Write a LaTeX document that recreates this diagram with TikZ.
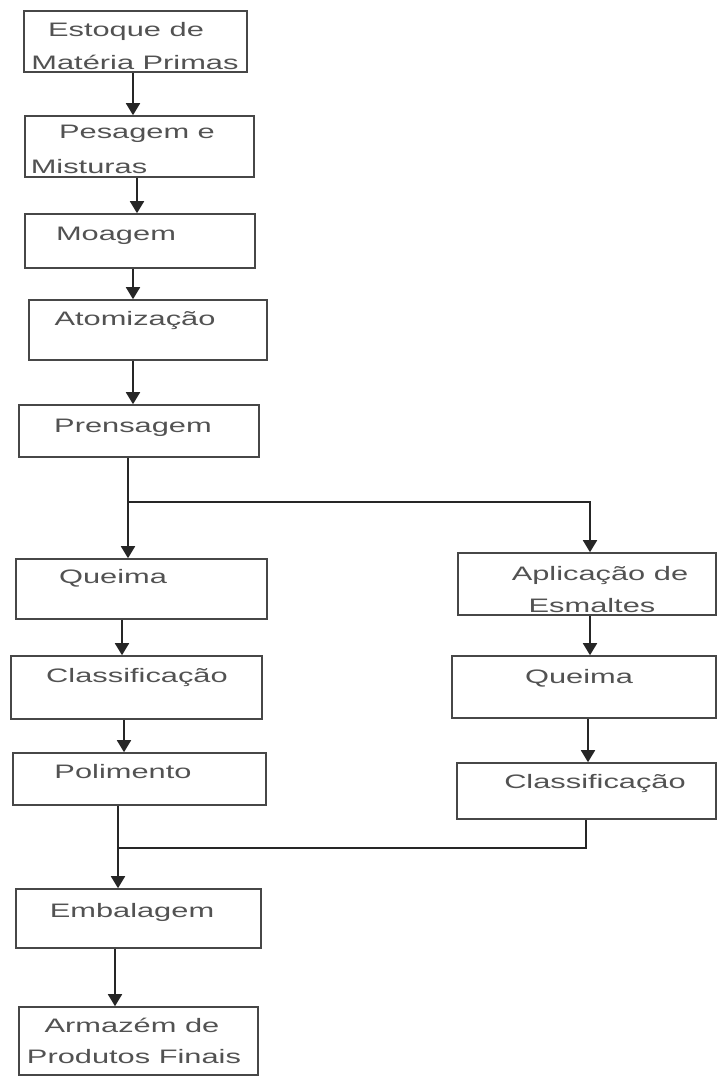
\documentclass[tikz,border=0pt]{standalone}
\usepackage{fontspec}
\usepackage{graphicx}
\setmainfont{Liberation Sans}
\usetikzlibrary{arrows.meta}
\newcommand{\wtxt}[1]{\scalebox{1.58}[1]{#1}}
\begin{document}
\begin{tikzpicture}[x=1pt,y=-1pt,
  box/.style={draw=black!72,line width=1.6pt,rectangle,inner sep=0pt},
  txt/.style={anchor=base,inner sep=0pt,text=black!68,font=\fontsize{19.5}{23}\selectfont},
  conn/.style={draw=black!85,line width=1.8pt},
  arr/.style={conn,-{Triangle[width=14pt,length=12pt]}}]
\useasboundingbox (0,0) rectangle (718,1077);
% boxes
\node[box,minimum width=223pt,minimum height=61pt] (b1) at (135.5,41.5) {};
\node[box,minimum width=229pt,minimum height=61pt] (b2) at (139.5,146.5) {};
\node[box,minimum width=230pt,minimum height=54pt] (b3) at (140,241) {};
\node[box,minimum width=238pt,minimum height=60pt] (b4) at (148,330) {};
\node[box,minimum width=240pt,minimum height=52pt] (b5) at (139,431) {};
\node[box,minimum width=251pt,minimum height=60pt] (b6) at (141.5,589) {};
\node[box,minimum width=251pt,minimum height=63pt] (b7) at (136.5,687.5) {};
\node[box,minimum width=253pt,minimum height=52pt] (b8) at (139.5,779) {};
\node[box,minimum width=258pt,minimum height=62pt] (b9) at (587,584) {};
\node[box,minimum width=264pt,minimum height=62pt] (b10) at (584,687) {};
\node[box,minimum width=259pt,minimum height=56pt] (b11) at (586.5,791) {};
\node[box,minimum width=245pt,minimum height=59pt] (b12) at (138.5,918.5) {};
\node[box,minimum width=239pt,minimum height=68pt] (b13) at (138.5,1041) {};
% texts
\node[txt] (t1a) at (126,36) {\wtxt{Estoque de}};
\node[txt] (t1b) at (135,69) {\wtxt{Matéria Primas}};
\node[txt] (t2a) at (137,138) {\wtxt{Pesagem e}};
\node[txt] (t2b) at (89,173) {\wtxt{Misturas}};
\node[txt] (t3) at (116,240) {\wtxt{Moagem}};
\node[txt] (t4) at (135,325) {\wtxt{Atomização}};
\node[txt] (t5) at (133,432) {\wtxt{Prensagem}};
\node[txt] (t6) at (113,583) {\wtxt{Queima}};
\node[txt] (t7) at (137,682) {\wtxt{Classificação}};
\node[txt] (t8) at (123,778) {\wtxt{Polimento}};
\node[txt] (t9a) at (600,580) {\wtxt{Aplicação de}};
\node[txt] (t9b) at (592,612) {\wtxt{Esmaltes}};
\node[txt] (t10) at (579,683) {\wtxt{Queima}};
\node[txt] (t11) at (595,788) {\wtxt{Classificação}};
\node[txt] (t12) at (132,917) {\wtxt{Embalagem}};
\node[txt] (t13a) at (132,1032) {\wtxt{Armazém de}};
\node[txt] (t13b) at (134,1063) {\wtxt{Produtos Finais}};
% columns
\coordinate (x133) at (133,0);
\coordinate (x137) at (137,0);
\coordinate (x128) at (128,0);
\coordinate (x122) at (122,0);
\coordinate (x124) at (124,0);
\coordinate (x590) at (590,0);
\coordinate (x588) at (588,0);
\coordinate (x586) at (586,0);
\coordinate (x118) at (118,0);
\coordinate (x115) at (115,0);
\coordinate (j1) at (128,502);
\coordinate (j2) at (118,848);
% connectors
\draw[arr] (b1.south -| x133) -- (b2.north -| x133);
\draw[arr] (b2.south -| x137) -- (b3.north -| x137);
\draw[arr] (b3.south -| x133) -- (b4.north -| x133);
\draw[arr] (b4.south -| x133) -- (b5.north -| x133);
\draw[arr] (b5.south -| x128) -- (b6.north -| x128);
\draw[arr] (j1) -| (b9.north -| x590);
\draw[arr] (b6.south -| x122) -- (b7.north -| x122);
\draw[arr] (b7.south -| x124) -- (b8.north -| x124);
\draw[arr] (b9.south -| x590) -- (b10.north -| x590);
\draw[arr] (b10.south -| x588) -- (b11.north -| x588);
\draw[conn] (b11.south -| x586) |- (j2);
\draw[arr] (b8.south -| x118) -- (b12.north -| x118);
\draw[arr] (b12.south -| x115) -- (b13.north -| x115);
\end{tikzpicture}
\end{document}
